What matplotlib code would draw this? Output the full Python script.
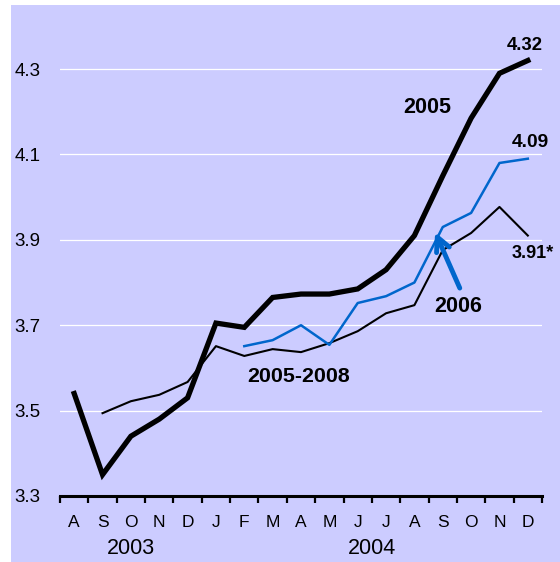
import numpy as np
import matplotlib
matplotlib.use("Agg")
import matplotlib.pyplot as plt
from matplotlib.patches import Rectangle
import matplotlib.transforms as mtransforms

plt.rcParams["font.family"] = ["Liberation Sans", "DejaVu Sans"]

# Aug 2003 .. Dec 2004
months = ["A", "S", "O", "N", "D", "J", "F", "M", "A", "M", "J", "J", "A", "S", "O", "N", "D"]
years = ["2003", "2004"]
year_centers = [2.0, 10.5]

nan = np.nan
v2005 = [3.54, 3.35, 3.44, 3.48, 3.53, 3.705, 3.695, 3.765, 3.773, 3.773,
         3.785, 3.83, 3.91, 4.05, 4.185, 4.29, 4.32]
v2006 = [nan, nan, nan, nan, nan, nan, 3.651, 3.665, 3.70, 3.654,
         3.752, 3.768, 3.80, 3.93, 3.963, 4.08, 4.09]
v0508 = [nan, 3.494, 3.522, 3.537, 3.567, 3.651, 3.628, 3.644, 3.637, 3.658,
         3.686, 3.728, 3.747, 3.876, 3.916, 3.977, 3.91]

BG = "#ccccff"
BLUE = "#0066cc"

W, H = 560, 562
fig = plt.figure(figsize=(W / 100, H / 100), dpi=100)
fig.patch.set_facecolor("white")
fig.add_artist(Rectangle((11 / W, 0), 1 - 11 / W, 1 - 5 / H,
                         transform=fig.transFigure, facecolor=BG,
                         edgecolor="none", zorder=-5))

ax = fig.add_axes([60 / W, 1 - 496 / H, 482 / W, 491 / H])
ax.set_facecolor("none")
x = np.arange(len(months))

ax.set_xlim(-0.5, len(months) - 0.5)
ax.set_ylim(3.3, 4.45)

yt = [3.3, 3.5, 3.7, 3.9, 4.1, 4.3]
ax.set_yticks(yt)
ax.set_yticklabels([f"{v:.1f}" for v in yt], fontsize=13.5)
ax.tick_params(axis="y", length=0, pad=14)
for v in yt[1:]:
    ax.axhline(v, color="white", linewidth=0.9, zorder=1)

ax.set_xticks(np.arange(-0.5, len(months)), labels=[""] * (len(months) + 1))
ax.set_xticks(x, labels=months, minor=True)
ax.tick_params(axis="x", which="major", direction="out", length=5, width=1.6)
ax.tick_params(axis="x", which="minor", length=0, pad=14, labelsize=12.5)

for s in ["top", "right", "left"]:
    ax.spines[s].set_visible(False)
ax.spines["bottom"].set_linewidth(2.2)

trans = mtransforms.blended_transform_factory(ax.transData, fig.transFigure)
for yr, xc in zip(years, year_centers):
    ax.text(xc, 1 - 548 / H, yr, transform=trans, ha="center", va="center",
            fontsize=15.5)

ax.plot(x, v0508, color="black", linewidth=1.5, zorder=3)
ax.plot(x, v2006, color=BLUE, linewidth=1.8, zorder=4)
ax.plot(x, v2005, color="black", linewidth=3.8, zorder=5,
        solid_joinstyle="miter")

bold = dict(fontweight="bold", ha="center", va="center")
ax.text(12.45, 4.211, "2005", fontsize=15.5, **bold)
ax.text(15.9, 4.354, f"{v2005[-1]:.2f}", fontsize=13.3, **bold)
ax.text(16.1, 4.129, f"{v2006[-1]:.2f}", fontsize=13.8, **bold)
ax.text(16.18, 3.869, f"{v0508[-1]:.2f}*", fontsize=13.1, **bold)
ax.text(13.54, 3.745, "2006", fontsize=15.5, **bold)
ax.text(7.9, 3.581, "2005-2008", fontsize=15.4, **bold)

ax.annotate("", xy=(12.73, 3.918), xytext=(13.6, 3.787),
            arrowprops=dict(arrowstyle="->,head_length=1.0,head_width=0.5",
                            color=BLUE, linewidth=3.5, shrinkA=0, shrinkB=0),
            zorder=6)

fig.savefig("out.png", dpi=100, facecolor=fig.get_facecolor())
